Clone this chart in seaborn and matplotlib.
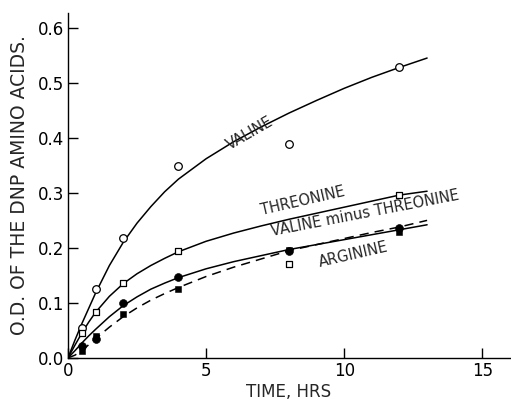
import numpy as np
import pandas as pd
import matplotlib
matplotlib.use("Agg")
import matplotlib.pyplot as plt
import seaborn as sns

# Measured points
t_pts = [0.5, 1, 2, 4, 8, 12]
valine_pts = [0.055, 0.125, 0.218, 0.349, 0.389, 0.529]
threonine_pts = [0.045, 0.083, 0.136, 0.194, 0.170, 0.297]
arginine_pts = [0.022, 0.034, 0.100, 0.147, 0.195, 0.236]
val_minus_thr_pts = [0.012, 0.040, 0.080, 0.125, 0.197, 0.228]

# Hand-drawn curves
t_curve = [0, 0.25, 0.5, 0.75, 1, 1.5, 2, 2.5, 3, 3.5, 4, 5, 6, 7, 8, 9, 10, 11, 12, 13]
valine_curve = [0, 0.032, 0.062, 0.09, 0.118, 0.168, 0.21, 0.245, 0.275, 0.302, 0.325,
                0.362, 0.393, 0.42, 0.445, 0.468, 0.49, 0.51, 0.528, 0.545]
threonine_curve = [0, 0.023, 0.045, 0.065, 0.083, 0.112, 0.135, 0.153, 0.168, 0.181, 0.193,
                   0.212, 0.227, 0.240, 0.252, 0.263, 0.274, 0.285, 0.296, 0.303]
arginine_curve = [0, 0.013, 0.027, 0.04, 0.052, 0.075, 0.095, 0.111, 0.125, 0.136, 0.146,
                  0.162, 0.175, 0.186, 0.197, 0.206, 0.215, 0.224, 0.233, 0.242]
vmt_curve = [0, 0.005, 0.013, 0.024, 0.035, 0.056, 0.075, 0.091, 0.105, 0.117, 0.128,
             0.148, 0.165, 0.18, 0.195, 0.206, 0.217, 0.228, 0.238, 0.25]

x_ticks = [0, 5, 10, 15]
y_ticks = [0.0, 0.1, 0.2, 0.3, 0.4, 0.5, 0.6]
y_ticklabels = ["0.0", "0.1", "0.2", "0.3", "0.4", "0.5", "0.6"]

sns.set_style("ticks")
plt.rcParams['font.family'] = ['DejaVu Sans']
plt.rcParams['xtick.direction'] = 'in'
plt.rcParams['ytick.direction'] = 'in'

fig = plt.figure(figsize=(5.11, 4.04), dpi=100)
ax = fig.add_axes([0.133, 0.114, 0.865, 0.854])

lw = 1.1
sns.lineplot(x=t_curve, y=valine_curve, ax=ax, color="black", lw=lw)
sns.lineplot(x=t_curve, y=threonine_curve, ax=ax, color="black", lw=lw)
sns.lineplot(x=t_curve, y=arginine_curve, ax=ax, color="black", lw=lw)
l = sns.lineplot(x=t_curve, y=vmt_curve, ax=ax, color="black", lw=lw)
l.lines[-1].set_dashes([6, 4])

sns.scatterplot(x=t_pts, y=valine_pts, ax=ax, marker="o", s=30, facecolor="white", edgecolor="black", linewidth=0.9, zorder=5)
sns.scatterplot(x=t_pts, y=threonine_pts, ax=ax, marker="s", s=24, facecolor="white", edgecolor="black", linewidth=0.9, zorder=5)
sns.scatterplot(x=t_pts, y=arginine_pts, ax=ax, marker="o", s=32, color="black", edgecolor="black", zorder=5)
sns.scatterplot(x=t_pts, y=val_minus_thr_pts, ax=ax, marker="s", s=24, color="black", edgecolor="black", zorder=5)

ax.set_xlim(0, 16.0)
ax.set_ylim(0, 0.627)
ax.set_xticks(x_ticks)
ax.set_xticklabels([str(v) for v in x_ticks])
ax.set_yticks(y_ticks)
ax.set_yticklabels(y_ticklabels)
ax.tick_params(axis="both", which="both", direction="in", length=7, width=1.0,
               labelsize=12, colors="black", pad=3)
for side in ["top", "right"]:
    ax.spines[side].set_visible(False)
for side in ["left", "bottom"]:
    ax.spines[side].set_linewidth(1.0)
    ax.spines[side].set_color("black")

ax.set_xlabel("TIME, HRS", fontsize=12, labelpad=2)
ax.set_ylabel("O.D. OF THE DNP AMINO ACIDS.", fontsize=13.5, labelpad=6)

fs = 10.5
ax.text(6.6, 0.408, "VALINE", rotation=30, fontsize=fs, ha="center", va="center")
ax.text(8.5, 0.285, "THREONINE", rotation=13, fontsize=fs, ha="center", va="center")
ax.text(10.75, 0.262, "VALINE minus THREONINE", rotation=11, fontsize=fs, ha="center", va="center")
ax.text(10.35, 0.188, "ARGININE", rotation=13, fontsize=fs, ha="center", va="center")

fig.savefig("out.png", dpi=100)
